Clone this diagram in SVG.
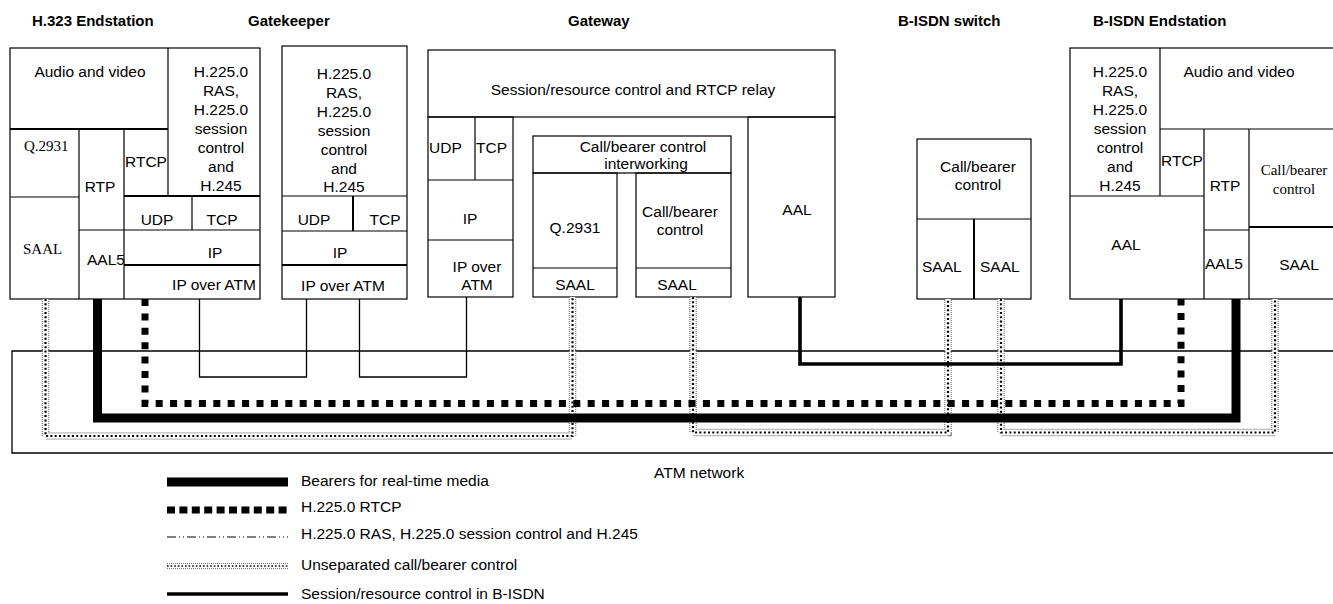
<svg xmlns="http://www.w3.org/2000/svg" width="1333" height="604" viewBox="0 0 1333 604">
<style>
.b{fill:none;stroke:#000;stroke-width:1.2}
.bt{fill:none;stroke:#000;stroke-width:2}
text{font-family:"Liberation Sans",Arial,sans-serif;font-size:15.5px;fill:#000}
.s{font-family:"Liberation Serif","Times New Roman",serif;font-size:15px}
.h{font-weight:bold;font-size:15px}
.m{text-anchor:middle}
.thin{fill:none;stroke:#000;stroke-width:1.3}
.bear{fill:none;stroke:#000;stroke-width:9}
.rtcp{fill:none;stroke:#000;stroke-width:7;stroke-dasharray:7 7.4}
.sess{fill:none;stroke:#000;stroke-width:3.6}
.uo{fill:none;stroke:#777;stroke-width:7.6;stroke-dasharray:1 1}
.ui{fill:none;stroke:#fff;stroke-width:5.2}
.uc{fill:none;stroke:#000;stroke-width:2.2;stroke-dasharray:2 2.3}
.dd{fill:none;stroke:#000;stroke-width:1;stroke-dasharray:9 3 1 3 1 3}
</style>
<rect width="1333" height="604" fill="#fff"/>

<g id="titles">
<text class="h" x="32" y="26">H.323 Endstation</text>
<text class="h" x="248" y="26">Gatekeeper</text>
<text class="h" x="568" y="26">Gateway</text>
<text class="h" x="898" y="26">B-ISDN switch</text>
<text class="h" x="1093" y="26">B-ISDN Endstation</text>
</g>

<g id="atm-network">
<path class="thin" d="M1345 351 H12 V453 H1345"/>
<text x="654" y="478">ATM network</text>
</g>

<g id="h323-endstation">
<rect class="b" x="10" y="48" width="250" height="251"/>
<path class="b" d="M168 48 V196 M10 197 H79 M79 129 V299 M124 196 V299 M124 129 V196 M192 196 V230 M79 230 H260"/>
<path class="bt" d="M10 129 H168 M124 196 H260 M124 265 H260"/>
<text class="m" x="90" y="77">Audio and video</text>
<text class="m" x="221" y="77">H.225.0</text>
<text class="m" x="221" y="96">RAS,</text>
<text class="m" x="221" y="115">H.225.0</text>
<text class="m" x="221" y="134">session</text>
<text class="m" x="221" y="153">control</text>
<text class="m" x="221" y="172">and</text>
<text class="m" x="221" y="191">H.245</text>
<text class="s" x="24" y="151">Q.2931</text>
<text x="125" y="167">RTCP</text>
<text class="m" x="100" y="192">RTP</text>
<text class="m" x="157" y="225">UDP</text>
<text class="m" x="222" y="225">TCP</text>
<text class="s" x="23" y="254">SAAL</text>
<text x="87" y="265">AAL5</text>
<text class="m" x="215" y="258">IP</text>
<text class="m" x="214" y="290">IP over ATM</text>
</g>

<g id="gatekeeper">
<rect class="b" x="282" y="46" width="125" height="253"/>
<path class="b" d="M282 196 H407 M282 231 H407"/>
<path class="bt" d="M353 196 V231 M282 265 H407"/>
<text class="m" x="344" y="79">H.225.0</text>
<text class="m" x="344" y="98">RAS,</text>
<text class="m" x="344" y="117">H.225.0</text>
<text class="m" x="344" y="136">session</text>
<text class="m" x="344" y="155">control</text>
<text class="m" x="344" y="174">and</text>
<text class="m" x="344" y="192">H.245</text>
<text class="m" x="314" y="225">UDP</text>
<text class="m" x="385" y="225">TCP</text>
<text class="m" x="340" y="258">IP</text>
<text class="m" x="343" y="291">IP over ATM</text>
</g>

<g id="gateway">
<rect class="b" x="428" y="50" width="407" height="67"/>
<text class="m" x="633" y="95">Session/resource control and RTCP relay</text>
<rect class="b" x="428" y="117" width="85" height="180"/>
<path class="b" d="M475 117 V180 M428 180 H513 M428 240 H513"/>
<text x="429" y="153">UDP</text>
<text x="476" y="153">TCP</text>
<text class="m" x="470" y="224">IP</text>
<text class="m" x="477" y="272">IP over</text>
<text class="m" x="477" y="290">ATM</text>
<rect class="b" x="533" y="136" width="198" height="37"/>
<text class="m" x="643" y="152">Call/bearer control</text>
<text class="m" x="646" y="169">interworking</text>
<rect class="b" x="533" y="173" width="84" height="124"/>
<path class="b" d="M533 268 H617"/>
<text class="m" x="575" y="233">Q.2931</text>
<text class="m" x="575" y="290">SAAL</text>
<rect class="b" x="636" y="173" width="95" height="124"/>
<path class="b" d="M636 268 H731"/>
<text class="m" x="680" y="217">Call/bearer</text>
<text class="m" x="680" y="235">control</text>
<text class="m" x="677" y="290">SAAL</text>
<rect class="b" x="748" y="117" width="87" height="180"/>
<text class="m" x="797" y="215">AAL</text>
</g>

<g id="b-isdn-switch">
<rect class="b" x="917" y="139" width="114" height="160"/>
<path class="b" d="M917 219 H1031"/>
<path class="bt" d="M974 219 V299"/>
<text class="m" x="978" y="172">Call/bearer</text>
<text class="m" x="978" y="190">control</text>
<text x="922" y="272">SAAL</text>
<text x="980" y="272">SAAL</text>
</g>

<g id="b-isdn-endstation">
<rect class="b" x="1070" y="48" width="280" height="251"/>
<path class="b" d="M1160 48 V196 M1070 196 H1204 M1160 129 H1345 M1204 129 V299 M1249 129 V299 M1204 230 H1249"/>
<path class="bt" d="M1249 227 H1345"/>
<text class="m" x="1120" y="77">H.225.0</text>
<text class="m" x="1120" y="96">RAS,</text>
<text class="m" x="1120" y="115">H.225.0</text>
<text class="m" x="1120" y="134">session</text>
<text class="m" x="1120" y="153">control</text>
<text class="m" x="1120" y="172">and</text>
<text class="m" x="1120" y="191">H.245</text>
<text class="m" x="1239" y="77">Audio and video</text>
<text x="1161" y="166">RTCP</text>
<text class="m" x="1225" y="191">RTP</text>
<text class="s m" x="1294" y="175">Call/bearer</text>
<text class="s m" x="1294" y="194">control</text>
<text class="m" x="1126" y="250">AAL</text>
<text x="1205" y="269">AAL5</text>
<text class="m" x="1299" y="270">SAAL</text>
</g>

<g id="connectors">
<path class="thin" d="M199.5 299 V377 H306.5 V299"/>
<path class="thin" d="M359.5 299 V377 H466.5 V297"/>
<g>
<path class="uo" d="M45.5 299 V436 H572.5 V297"/>
<path class="ui" d="M45.5 299 V436 H572.5 V297"/>
<path class="uc" d="M45.5 299 V436 H572.5 V297"/>
<path class="uo" d="M693 297 V432.5 H948 V299"/>
<path class="ui" d="M693 297 V432.5 H948 V299"/>
<path class="uc" d="M693 297 V432.5 H948 V299"/>
<path class="uo" d="M1001 299 V432.5 H1275 V299"/>
<path class="ui" d="M1001 299 V432.5 H1275 V299"/>
<path class="uc" d="M1001 299 V432.5 H1275 V299"/>
</g>
<path class="sess" d="M800 297 V364 H1121 V299"/>
<path class="rtcp" d="M145 299 V403.5 H1181 V299"/>
<path class="bear" d="M97.5 299 V418 H1236 V299"/>
</g>

<g id="legend">
<path class="bear" d="M167 482 H288"/>
<text x="301" y="486">Bearers for real-time media</text>
<path class="rtcp" style="stroke-dasharray:8 4.4" d="M167 510 H288"/>
<text x="301" y="512">H.225.0 RTCP</text>
<path class="dd" d="M167 537 H288"/>
<text x="301" y="539">H.225.0 RAS, H.225.0 session control and H.245</text>
<path class="uo" style="stroke-width:6" d="M167 566 H288"/>
<path class="ui" style="stroke-width:3.8" d="M167 566 H288"/>
<path class="uc" style="stroke-width:1.6;stroke-dasharray:1.6 2" d="M167 566 H288"/>
<text x="301" y="570">Unseparated call/bearer control</text>
<path class="sess" style="stroke-width:3.3" d="M167 594 H288"/>
<text x="301" y="599">Session/resource control in B-ISDN</text>
</g>
</svg>
